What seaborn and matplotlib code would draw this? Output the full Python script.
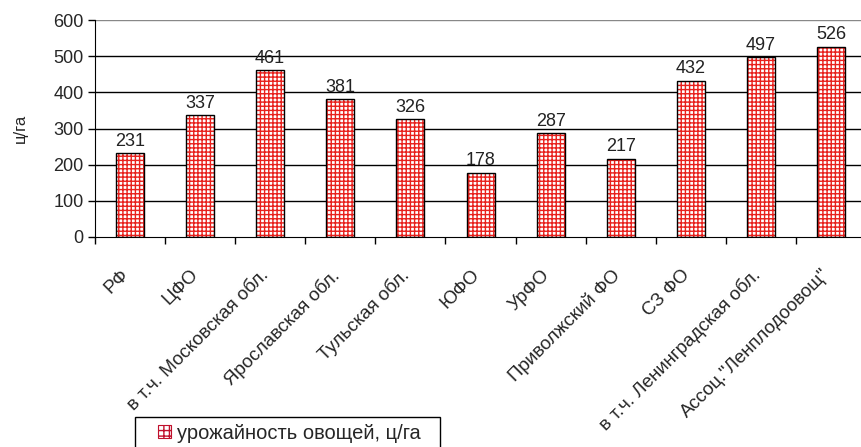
import numpy as np
import matplotlib
matplotlib.use("Agg")
import matplotlib.pyplot as plt
import matplotlib.transforms as mtransforms
import seaborn as sns
import pandas as pd
from matplotlib.patches import Patch, Rectangle

regions = ["РФ", "ЦФО", "в т.ч. Московская обл.", "Ярославская обл.", "Тульская обл.",
           "ЮФО", "УрФО", "Приволжский ФО", "СЗ ФО", "в т.ч. Ленинградская обл.",
           "Ассоц.\"Ленплодоовощ\""]
yields = [231, 337, 461, 381, 326, 178, 287, 217, 432, 497, 526]
yticks = [0, 100, 200, 300, 400, 500, 600]
series_name = "урожайность овощей, ц/га"

df = pd.DataFrame({"region": regions, "value": yields})

sns.set_style("white")
plt.rcParams['font.family'] = ['Liberation Sans', 'DejaVu Sans']

fig = plt.figure(figsize=(8.62, 4.47), dpi=100)
ax = fig.add_axes([0.110, 0.470, 0.895, 0.485])

for y in yticks[1:]:
    ax.axhline(y, color="black" if y < 600 else "#888888", lw=1.0, zorder=0)

# hatched fill (red grid), then black outline on top
sns.barplot(data=df, x="region", y="value", ax=ax, width=0.4,
            color="white", edgecolor="#e8201c", hatch="++++", linewidth=0, zorder=2)
sns.barplot(data=df, x="region", y="value", ax=ax, width=0.4,
            fill=False, edgecolor="black", linewidth=1.0, zorder=3)

for i, v in enumerate(yields):
    ax.text(i, v + 10, str(v), ha="center", va="bottom", fontsize=13, color="#222222")

ax.set_ylim(0, 600)
ax.set_xlim(-0.5, len(regions) - 0.5)
ax.set_yticks(yticks)
ax.set_yticklabels([str(t) for t in yticks], fontsize=13)
ax.set_xticks(range(len(regions)))
ax.set_xticklabels(regions, rotation=45, ha="right", rotation_mode="anchor", fontsize=13.5)
ax.tick_params(axis="x", length=0, pad=21)
shift = mtransforms.ScaledTranslation(-10 / 100, 0, fig.dpi_scale_trans)
for lab in ax.get_xticklabels():
    lab.set_transform(lab.get_transform() + shift)
ax.tick_params(axis="y", length=5, direction="out", width=1, color="black", left=True, pad=3)
# category separators on x axis
ax.set_xticks(np.arange(len(regions) + 1) - 0.5, minor=True)
ax.tick_params(axis="x", which="minor", length=5, direction="out", width=1, color="black", bottom=True)
ax.set_xlabel("")
ax.set_ylabel("ц/га", fontsize=12, labelpad=18)

for s in ["top", "right"]:
    ax.spines[s].set_visible(False)
ax.spines["left"].set_color("black")
ax.spines["bottom"].set_color("black")

# legend: box runs off the bottom edge like in the original
handle = Patch(facecolor="white", edgecolor="#c0102c", hatch="+++", linewidth=0.8)
leg = fig.legend([handle], [series_name], loc="center left", bbox_to_anchor=(0.183, 0.031),
                 frameon=False, fontsize=14.5, handlelength=0.65, handleheight=0.65,
                 handletextpad=0.3, borderpad=0.0, borderaxespad=0)
fig.patches.append(Rectangle((0.1566, -0.05), 0.354, 0.117, transform=fig.transFigure,
                             facecolor="none", edgecolor="black", lw=1.0))

fig.savefig("out.png", dpi=100)
